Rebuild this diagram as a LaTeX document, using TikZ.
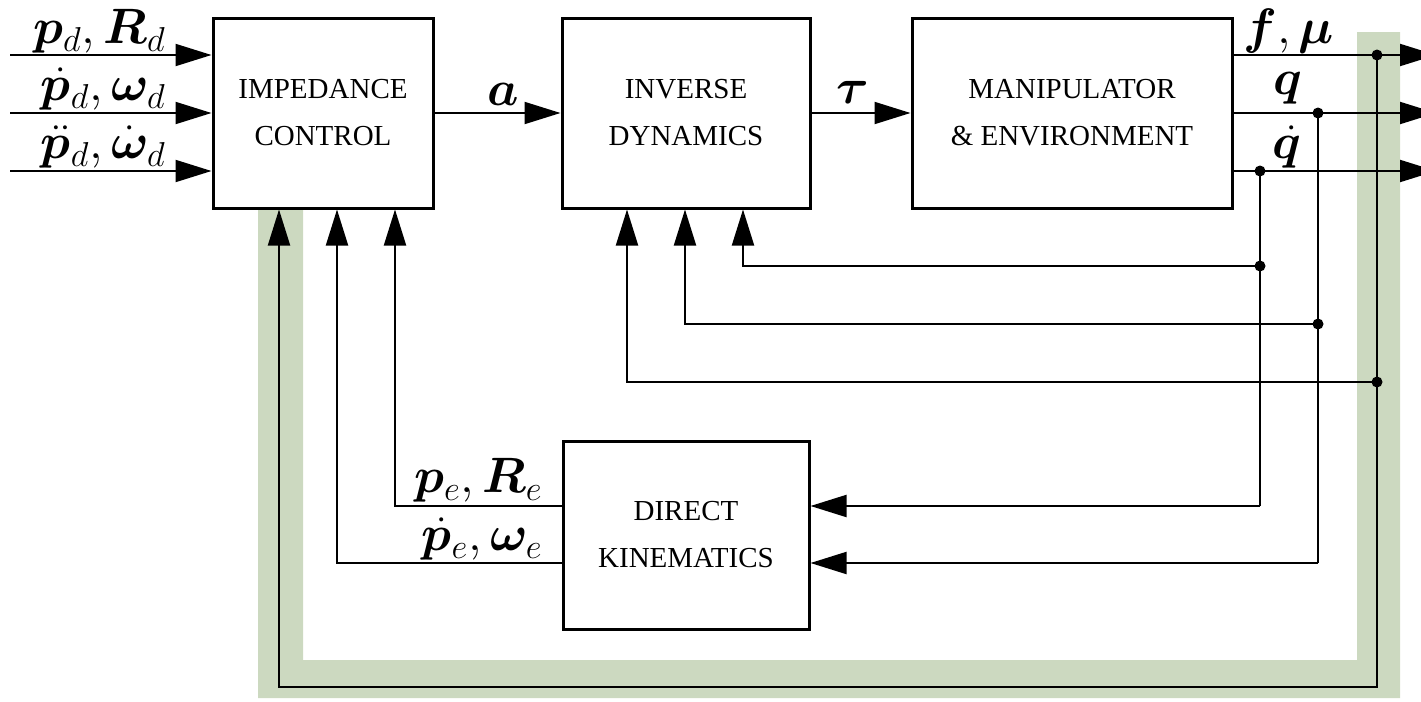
\documentclass[tikz,border=0pt]{standalone}
\usepackage{amsmath}
\usepackage{bm}
\usepackage{fontspec}
\setmainfont{Liberation Serif}
\usetikzlibrary{arrows.meta}
\definecolor{band}{RGB}{204,217,192}
\tikzset{
  blk/.style={draw, line width=1.5pt, align=center, inner sep=0pt,
    font=\fontsize{14.5}{23.5}\selectfont},
  conn/.style={line width=1pt},
  arr/.style={-{Triangle[length=18pt,width=11pt]}},
  lbl/.style={inner sep=0pt, font=\fontsize{24}{28}\selectfont},
  jdot/.style={circle, fill=black, inner sep=0pt, minimum size=5.5pt}
}
\begin{document}
\begin{tikzpicture}[x=0.5pt,y=-0.5pt]
\useasboundingbox (0,0) rectangle (1421,702);
\clip (0,0) rectangle (1421,702);
% green highlight band
\fill[band] (258,208) -- (258,698) -- (1400,698) -- (1400,32) -- (1357,32)
  -- (1357,660) -- (303,660) -- (303,208) -- cycle;
% blocks
\node[blk, minimum width=110pt, minimum height=95pt] (IC) at (323,113) {IMPEDANCE\\CONTROL};
\node[blk, minimum width=124pt, minimum height=95pt] (ID) at (686,113) {INVERSE\\DYNAMICS};
\node[blk, minimum width=160pt, minimum height=95pt] (MA) at (1072,113) {MANIPULATOR\\\& ENVIRONMENT};
\node[blk, minimum width=123pt, minimum height=94pt] (DK) at (686,535) {DIRECT\\KINEMATICS};
% coordinates
\coordinate (in1) at (10,55);
\coordinate (in2) at (10,113);
\coordinate (in3) at (10,171);
\coordinate (o1) at (1436,55);
\coordinate (o2) at (1436,113);
\coordinate (o3) at (1436,171);
\coordinate (jf) at (1377,55);
\coordinate (jq) at (1318,113);
\coordinate (jqd) at (1260,171);
\coordinate (j1) at (1260,266);
\coordinate (j2) at (1318,324);
\coordinate (j3) at (1377,382);
\coordinate (c1) at (1260,506);
\coordinate (c2) at (1318,563);
\coordinate (c3) at (1377,687);
\coordinate (c4) at (279,687);
\coordinate (d1) at (395,506);
\coordinate (d2) at (337,563);
\coordinate (x1) at (743,0);
\coordinate (x2) at (685,0);
\coordinate (x3) at (627,0);
% inputs
\draw[conn,arr] (in1) -- (IC.west |- in1);
\draw[conn,arr] (in2) -- (IC.west |- in2);
\draw[conn,arr] (in3) -- (IC.west |- in3);
\node[lbl, anchor=south east] (l1) at (166,54) {$\bm{p}_d,\bm{R}_d$};
\node[lbl, anchor=south east] (l2) at (166,111) {$\dot{\bm{p}}_d,\bm{\omega}_d$};
\node[lbl, anchor=south east] (l3) at (166,169) {$\ddot{\bm{p}}_d,\dot{\bm{\omega}}_d$};
% forward path
\draw[conn,arr] (IC.east) -- (ID.west);
\draw[conn,arr] (ID.east) -- (MA.west);
\node[lbl] (la) at (503,94) {$\bm{a}$};
\node[lbl] (lt) at (853,92) {$\bm{\tau}$};
% outputs
\draw[conn,arr] (MA.east |- jf) -- (o1);
\draw[conn,arr] (MA.east |- jq) -- (o2);
\draw[conn,arr] (MA.east |- jqd) -- (o3);
\node[lbl, anchor=south west] (lf) at (1243,54) {$\bm{f},\bm{\mu}$};
\node[lbl] (lq) at (1288,88) {$\bm{q}$};
\node[lbl] (lqd) at (1287,147) {$\dot{\bm{q}}$};
% feedback to inverse dynamics and direct kinematics
\draw[conn] (jqd) -- (c1);
\draw[conn] (jq) -- (c2);
\draw[conn,arr] (c1) -- (DK.east |- c1);
\draw[conn,arr] (c2) -- (DK.east |- c2);
\draw[conn,arr] (j1) -| (x1 |- ID.south);
\draw[conn,arr] (j2) -| (x2 |- ID.south);
\draw[conn,arr] (j3) -| (x3 |- ID.south);
% feedback of f, mu to impedance control
\draw[conn,arr] (jf) -- (c3) -- (c4) -- (c4 |- IC.south);
% direct kinematics outputs
\draw[conn,arr] (DK.west |- d1) -- (d1) -- (d1 |- IC.south);
\draw[conn,arr] (DK.west |- d2) -- (d2) -- (d2 |- IC.south);
\node[lbl, anchor=south east] (lpe) at (543,503) {$\bm{p}_e,\bm{R}_e$};
\node[lbl, anchor=south east] (lpde) at (543,561) {$\dot{\bm{p}}_e,\bm{\omega}_e$};
% junction dots
\node[jdot] (n1) at (jf) {};
\node[jdot] (n2) at (jq) {};
\node[jdot] (n3) at (jqd) {};
\node[jdot] (n4) at (j1) {};
\node[jdot] (n5) at (j2) {};
\node[jdot] (n6) at (j3) {};
\end{tikzpicture}
\end{document}
